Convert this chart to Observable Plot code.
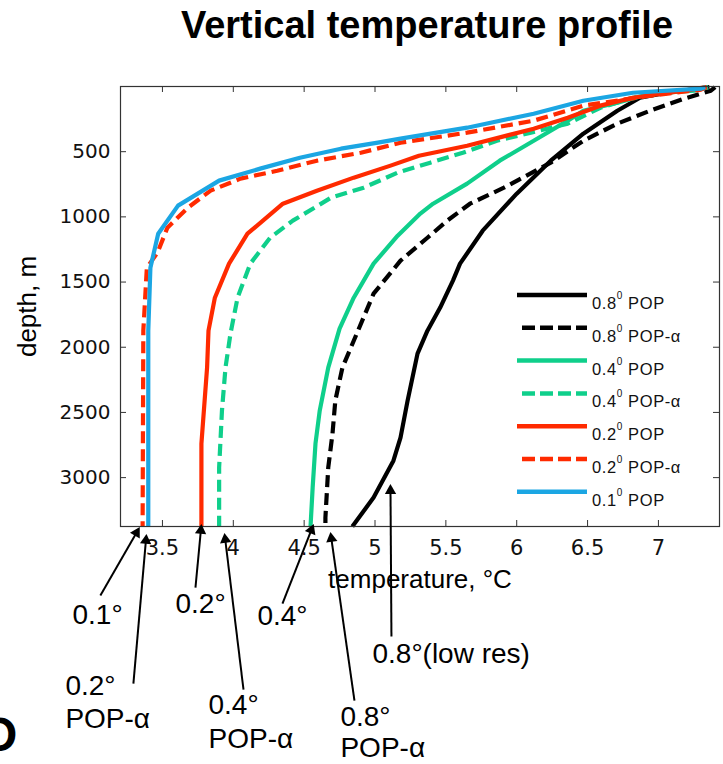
<!DOCTYPE html>
<html><head><meta charset="utf-8">
<script src="https://cdn.jsdelivr.net/npm/d3@7"></script>
<script src="https://cdn.jsdelivr.net/npm/@observablehq/plot@0.6"></script>
<style>
body{margin:0;background:#fff;}
#wrap{position:relative;width:723px;height:764px;overflow:hidden;font-family:"Liberation Sans",Arial,sans-serif;background:#fff;}
#title{position:absolute;left:127px;top:0;width:600px;height:50px;line-height:50px;text-align:center;font-weight:bold;font-size:38px;color:#000;white-space:nowrap;}
#chart{position:absolute;left:0;top:50px;}
#legend{position:absolute;left:510px;top:275px;}
#panel{position:absolute;left:-20px;top:711px;font-weight:bold;font-size:48px;line-height:48px;color:#000;}
</style></head><body>
<div id="wrap">
<div id="title">Vertical temperature profile</div>
<div id="chart"></div>
<svg id="legend" width="213" height="240"></svg>
<div id="panel">O</div>
</div>
<script>
// ---- data ----
const xTicks = [3.5, 4, 4.5, 5, 5.5, 6, 6.5, 7];
const yTicks = [500, 1000, 1500, 2000, 2500, 3000];

const seriesRes   = ["0.8", "0.8", "0.4", "0.4", "0.2", "0.2", "0.1"];
const seriesModel = ["POP", "POP-α", "POP", "POP-α", "POP", "POP-α", "POP"];
const seriesColor = ["#000000", "#000000", "#0fcf8b", "#0fcf8b", "#ff2a00", "#ff2a00", "#1ba6e3"];
const seriesDashed = [false, true, false, true, false, true, false];

const depth08  = [5, 48, 86, 186, 362, 569, 822, 1106, 1359, 1489, 1696, 1873, 2049, 2409, 2693, 2870, 3153, 3375];
const temp08   = [7.36, 7.06, 6.87, 6.71, 6.47, 6.24, 6.00, 5.76, 5.60, 5.55, 5.46, 5.37, 5.30, 5.23, 5.18, 5.13, 4.99, 4.84];
const depth08a = [5, 32, 94, 186, 285, 416, 584, 776, 899, 1029, 1160, 1336, 1589, 1873, 2156, 2409, 2663, 2923, 3307, 3375];
const temp08a  = [7.40, 7.37, 7.18, 6.94, 6.71, 6.47, 6.24, 5.91, 5.67, 5.51, 5.37, 5.18, 4.99, 4.88, 4.77, 4.72, 4.70, 4.67, 4.65, 4.65];
const depth04  = [5, 32, 55, 124, 186, 262, 416, 569, 745, 899, 975, 1144, 1359, 1620, 1857, 2156, 2486, 2739, 3077, 3375];
const temp04   = [7.35, 7.25, 6.94, 6.71, 6.47, 6.36, 6.12, 5.88, 5.65, 5.41, 5.32, 5.16, 4.99, 4.85, 4.75, 4.67, 4.61, 4.58, 4.56, 4.545];
const depth04a = [5, 32, 86, 163, 285, 354, 416, 508, 584, 661, 776, 853, 1029, 1160, 1359, 1620, 1896, 2156, 2486, 2923, 3375];
const temp04a  = [7.35, 7.18, 6.82, 6.59, 6.36, 6.10, 5.86, 5.62, 5.39, 5.16, 4.92, 4.69, 4.42, 4.26, 4.12, 4.03, 3.98, 3.945, 3.92, 3.90, 3.90];
const depth02  = [5, 32, 86, 147, 239, 324, 454, 531, 607, 699, 799, 899, 1129, 1359, 1620, 1873, 2156, 2739, 3375];
const temp02   = [7.34, 7.18, 6.82, 6.59, 6.36, 6.12, 5.65, 5.31, 5.11, 4.85, 4.59, 4.35, 4.10, 3.97, 3.87, 3.825, 3.815, 3.775, 3.775];
const depth02a = [5, 24, 71, 147, 262, 354, 431, 508, 569, 646, 707, 799, 929, 1083, 1275, 1390, 1873, 3375];
const temp02a  = [7.34, 7.30, 6.94, 6.47, 6.12, 5.65, 5.18, 4.90, 4.59, 4.31, 4.05, 3.84, 3.68, 3.535, 3.465, 3.39, 3.365, 3.36];
const depth01  = [5, 17, 48, 109, 209, 316, 400, 431, 477, 546, 630, 722, 914, 1129, 1390, 1873, 3375];
const temp01   = [7.33, 7.30, 6.82, 6.47, 6.12, 5.65, 5.18, 5.02, 4.76, 4.47, 4.19, 3.90, 3.61, 3.47, 3.415, 3.40, 3.40];

const seriesDepth = [depth08, depth08a, depth04, depth04a, depth02, depth02a, depth01];
const seriesTemp  = [temp08, temp08a, temp04, temp04a, temp02, temp02a, temp01];

// annotations (temperature, depth anchors)
const annoText  = ["0.1°", "0.2°", "POP-α", "0.2°", "0.4°", "0.4°", "POP-α", "0.8°(low res)", "0.8°", "POP-α"];
const annoT     = [2.865, 2.815, 2.815, 3.592, 4.170, 3.825, 3.825, 4.982, 4.756, 4.756];
const annoDepth = [4051, 4595, 4848, 3966, 4058, 4748, 5002, 4350, 4840, 5078];

const arrowFromT     = [3.062, 3.295, 3.733, 4.072, 4.347, 4.855, 5.116];
const arrowFromDepth = [3905, 4580, 3844, 4626, 3966, 4710, 4219];
const arrowToT       = [3.338, 3.387, 3.775, 3.938, 4.566, 4.686, 5.109];
const arrowToDepth   = [3383, 3437, 3360, 3429, 3360, 3422, 3054];

// ---- layout ----
const W = 723, H = 714, mt = 36, mb = 238, ml = 120, mr = 4;
const xDomain = [3.204, 7.431], yDomain = [0, 3375];
const fw = W - ml - mr, fh = H - mt - mb;
const kx = fw / (xDomain[1] - xDomain[0]);
const ky = fh / (yDomain[1] - yDomain[0]);

const rows = seriesDepth.map((ds, s) => ds.map((d, i) => ({depth: d, T: seriesTemp[s][i]})));

// arrow heads
const heads = arrowToT.map((t, i) => {
  const dxs = (t - arrowFromT[i]) * kx;
  const dys = (arrowToDepth[i] - arrowFromDepth[i]) * ky;
  const L = Math.hypot(dxs, dys);
  const ux = dxs / L, uy = dys / L;
  return {
    x1: arrowFromT[i], y1: arrowFromDepth[i],
    x: t - 6 * ux / kx, y: arrowToDepth[i] - 6 * uy / ky,
    rot: Math.atan2(ux, -uy) * 180 / Math.PI
  };
});

const lineMarks = rows.map((r, s) => Plot.line(r, {
  x: "T", y: "depth", stroke: seriesColor[s], strokeWidth: 4.2,
  strokeDasharray: seriesDashed[s] ? "12,6" : undefined,
  strokeLinecap: "butt", strokeLinejoin: "round"
}));

const chart = Plot.plot({
  width: W, height: H,
  marginTop: mt, marginBottom: mb, marginLeft: ml, marginRight: mr,
  x: {domain: xDomain},
  y: {domain: yDomain, reverse: true},
  style: {fontFamily: "'Liberation Sans', Arial, sans-serif", background: "transparent", overflow: "visible", color: "#000"},
  marks: [
    ...lineMarks,
    Plot.frame({stroke: "#333", strokeWidth: 1.2}),
    Plot.tickX(xTicks, {x: d => d, insetTop: fh - 6, stroke: "#333"}),
    Plot.tickX(xTicks, {x: d => d, insetBottom: fh - 6, stroke: "#333"}),
    Plot.tickY(yTicks, {y: d => d, insetRight: fw - 6, stroke: "#333"}),
    Plot.tickY(yTicks, {y: d => d, insetLeft: fw - 6, stroke: "#333"}),
    Plot.axisX({ticks: xTicks, tickSize: 0, tickPadding: 14, tickFormat: d => String(d), label: null, fontSize: 21, fontFamily: "DejaVu Sans", fill: "#111"}),
    Plot.axisY({ticks: yTicks, tickSize: 0, tickPadding: 10, tickFormat: d => String(d), label: null, fontSize: 20, fontFamily: "DejaVu Sans", fill: "#111"}),
    Plot.text(["temperature, °C"], {frameAnchor: "bottom", dy: 61, fontSize: 26, fill: "#000"}),
    Plot.text(["depth, m"], {frameAnchor: "left", rotate: -90, dx: -93, fontSize: 26, textAnchor: "middle", fill: "#000"}),
    Plot.link(heads, {x1: "x1", y1: "y1", x2: "x", y2: "y", stroke: "#000", strokeWidth: 2}),
    Plot.dot(heads, {x: "x", y: "y", symbol: "triangle", r: 4.2, fill: "#000", stroke: null, rotate: "rot"}),
    Plot.text(annoText.map((_, i) => i), {x: i => annoT[i], y: i => annoDepth[i], text: i => annoText[i], textAnchor: "start", fontSize: 28, fill: "#000"})
  ]
});
document.getElementById("chart").appendChild(chart);

// ---- legend ----
const leg = d3.select("#legend");
seriesRes.forEach((res, s) => {
  const yc = 20 + s * 32.8;
  leg.append("line")
    .attr("x1", seriesDashed[s] ? 12 : 7).attr("x2", 77)
    .attr("y1", yc).attr("y2", yc)
    .attr("stroke", seriesColor[s]).attr("stroke-width", 4.5)
    .attr("stroke-dasharray", seriesDashed[s] ? "13,5" : null);
  const t = leg.append("text")
    .attr("x", 82).attr("y", yc + 14)
    .attr("font-family", "'Liberation Sans', Arial, sans-serif")
    .attr("font-size", 16.5).attr("letter-spacing", 0.6).attr("fill", "#111");
  t.append("tspan").text(res);
  t.append("tspan").attr("dy", -10).attr("font-size", 10).text("0");
  t.append("tspan").attr("dy", 10).text(" " + seriesModel[s]);
});
</script>
</body></html>
